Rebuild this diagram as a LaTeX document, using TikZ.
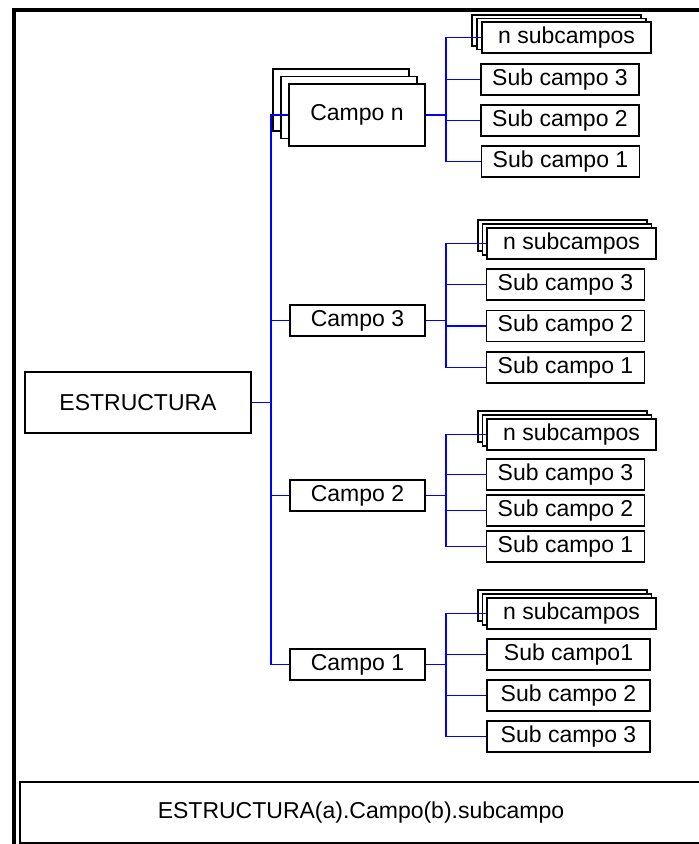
\documentclass[tikz,border=0pt]{standalone}
\usepackage{fontspec}
\setmainfont{Liberation Sans}
\tikzset{
  box/.style={draw=black, line width=0.7pt, fill=white, inner sep=0pt,
    font=\fontsize{11.5}{13}\selectfont},
  campo/.style={box, minimum width=67.5pt, minimum height=15.5pt},
  campostack/.style={box, minimum width=68pt, minimum height=31pt},
  sub/.style={box, minimum width=79pt, minimum height=15.5pt},
  subwide/.style={box, minimum width=81.5pt, minimum height=15.5pt},
  nsub/.style={box, minimum width=84.5pt, minimum height=15.5pt},
  thinlink/.style={draw=blue, line width=0.6pt},
  thicklink/.style={draw=blue, line width=0.9pt},
  frameline/.style={draw=black, line width=2pt}
}
\begin{document}
\begin{tikzpicture}[x=0.5pt,y=-0.5pt]
\useasboundingbox (0,0) rectangle (699,844);
% frame
\draw[frameline] (699,10) -- (14,10) -- (14,846);
% root
\node[box, minimum width=113pt, minimum height=30.5pt] (E) at (138,402.5) {ESTRUCTURA};
% Campo n (stacked)
\node[campostack] (cnb) at (341,100) {};
\node[campostack] (cnm) at (349,107.5) {};
\node[campostack] (cn) at (357,115) {Campo n};
\node[campo] (c3) at (357.5,320.5) {Campo 3};
\node[campo] (c2) at (357.5,495.5) {Campo 2};
\node[campo] (c1) at (357.5,664.5) {Campo 1};
% group n
\node[nsub] (gnb) at (556.5,30.5) {};
\node[nsub] (gnm) at (561.5,34) {};
\node[nsub] (gnn) at (566.5,37.5) {n subcampos};
\node[sub] (gn3) at (560,79.5) {Sub campo 3};
\node[sub] (gn2) at (560,120.5) {Sub campo 2};
\node[sub] (gn1) at (560.5,161.5) {Sub campo 1};
% group 3
\node[nsub] (g3b) at (562.5,235.5) {};
\node[nsub] (g3m) at (567,239.5) {};
\node[nsub] (g3n) at (571.5,243.5) {n subcampos};
\node[sub] (g33) at (565.5,284.5) {Sub campo 3};
\node[sub] (g32) at (565.5,326) {Sub campo 2};
\node[sub] (g31) at (565.5,367.5) {Sub campo 1};
% group 2
\node[nsub] (g2b) at (562.5,426.5) {};
\node[nsub] (g2m) at (567,430.5) {};
\node[nsub] (g2n) at (571.5,434.5) {n subcampos};
\node[sub] (g23) at (565.5,474.5) {Sub campo 3};
\node[sub] (g22) at (565.5,510.5) {Sub campo 2};
\node[sub] (g21) at (565.5,546.5) {Sub campo 1};
% group 1
\node[nsub] (g1b) at (562.5,605.5) {};
\node[nsub] (g1m) at (567,609.5) {};
\node[nsub] (g1n) at (571.5,613.5) {n subcampos};
\node[subwide] (g11) at (568.5,654.5) {Sub campo1};
\node[subwide] (g12) at (568.5,695.5) {Sub campo 2};
\node[subwide] (g13) at (568.5,736.5) {Sub campo 3};
% bottom box
\node[box, minimum width=341pt, minimum height=30.5pt] (F) at (361,812.5) {ESTRUCTURA(a).Campo(b).subcampo};
% trunk
\coordinate (T) at (271,402.5);
\draw[thicklink] (E.east) -- (T);
\draw[thinlink] (cn.west) -| (T) |- (c1.west);
\draw[thinlink] (c3.west) -| (T);
\draw[thinlink] (c2.west) -| (T);
% sub trunks
\coordinate (Sn) at (446,115);
\coordinate (S3) at (446,320.5);
\coordinate (S2) at (446,495.5);
\coordinate (S1) at (446,664.5);
\draw[thicklink] (cn.east) -- (Sn);
\draw[thicklink] (c3.east) -- (S3);
\draw[thicklink] (c2.east) -- (S2);
\draw[thicklink] (c1.east) -- (S1);
\draw[thinlink] (gnn.west) -| (Sn) |- (gn1.west);
\draw[thinlink] (gn3.west) -| (Sn);
\draw[thinlink] (gn2.west) -| (Sn);
\draw[thinlink] (g3n.west) -| (S3) |- (g31.west);
\draw[thinlink] (g33.west) -| (S3);
\draw[thinlink] (g32.west) -| (S3);
\draw[thinlink] (g2n.west) -| (S2) |- (g21.west);
\draw[thinlink] (g23.west) -| (S2);
\draw[thinlink] (g22.west) -| (S2);
\draw[thinlink] (g1n.west) -| (S1) |- (g13.west);
\draw[thinlink] (g11.west) -| (S1);
\draw[thinlink] (g12.west) -| (S1);
\end{tikzpicture}
\end{document}
